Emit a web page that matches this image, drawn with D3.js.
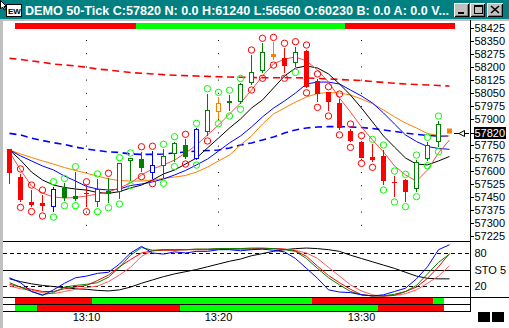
<!DOCTYPE html>
<html><head><meta charset="utf-8">
<script src="https://cdn.jsdelivr.net/npm/d3@7"></script>
<style>html,body{margin:0;padding:0;background:#fff;overflow:hidden}svg{display:block;font-family:"Liberation Sans",Arial,sans-serif}</style>
</head><body><svg id="c" width="509" height="328"></svg>
<script>
// ---------------- DATA ----------------
const titleText = "DEMO 50-Tick C:57820 N: 0.0 H:61240 L:56560 O:60230 B: 0.0 A: 0.0 V...";
const opens  = [57725,57567,57423,57417,57394,57504,57456,57471,57423,57485,57477,57658,57667,57587,57627,57698,57750,57667,57827,57939,58004,58000,58108,58179,58275,58250,58221,58292,58119,58057,57994,57832,57766,57683,57687,57538,57548,57494,57669,57769];
const highs  = [57725,57583,57490,57461,57509,57528,57596,57509,57554,57558,57648,57675,57711,57714,57725,57769,57783,57846,58046,58025,58037,58105,58269,58337,58342,58308,58317,58298,58131,58057,58015,57842,57775,57754,57721,57571,57552,57663,57766,57888];
const lows   = [57525,57419,57395,57369,57363,57429,57429,57394,57394,57417,57438,57545,57596,57556,57558,57654,57669,57663,57802,57902,57946,57985,58096,58164,58240,58164,58198,58080,57996,57946,57837,57765,57673,57650,57519,57450,57423,57481,57659,57740];
const closes = [57587,57433,57401,57400,57494,57443,57439,57471,57494,57466,57644,57675,57616,57635,57687,57760,57679,57841,57952,57991,57991,58100,58169,58285,58259,58207,58285,58086,58043,58000,57846,57775,57677,57663,57542,57538,57481,57654,57748,57871];
const candleType = ["down","down","down","down","blue","upFilled","upFilled","doji","up","upFilled","up","up","upFilled","blue","up","up","upFilled","blue","up","orange","upFilled","up","up","up","orangeFilled","down","up","down","down","down","down","down","down","down","down","doji","down","up","up","up"];
const topMarker    = [null,"r","r","r","g","g","g","r","g","r","g","g","r","r","g","g","r","g","g","g","g","g","r","r","r","r","r","r","r","r","r","r","r","g","g","g","g","g","g","g"];
const bottomMarker = [null,"r","r","r","g","g","g","r","g","g","g","g","r","r","g","g","r","g","r","g","g","g","r","r","r","r","g","r","r","r","r","r","r","r","g","g","g","g","g","g"];
const lastTick = 57828;
const lastPrice = 57820;

const maRedDash  = [58250,58244,58235,58227,58217,58212,58206,58198,58188,58183,58175,58168,58164,58160,58156,58152,58150,58148,58146,58144,58142,58141,58139,58138,58138,58138,58138,58137,58134,58131,58128,58125,58122,58116,58111,58106,58102,58099,58096,58093,58090];
const maBlueDash = [57817,57808,57790,57776,57763,57753,57738,57727,57718,57710,57707,57698,57696,57696,57698,57704,57710,57715,57718,57721,57733,57750,57762,57779,57796,57819,57837,57848,57854,57856,57856,57854,57851,57845,57837,57828,57819,57811,57805,57802,57802];
const maBlack  = [57721,57663,57594,57548,57519,57505,57496,57490,57476,57471,57481,57502,57519,57548,57583,57606,57640,57675,57733,57790,57848,57900,57963,58010,58079,58148,58194,58206,58194,58160,58102,58038,57963,57883,57802,57738,57675,57640,57635,57658,57684];
const maBlue   = [57721,57687,57658,57629,57606,57571,57542,57511,57496,57490,57496,57516,57525,57537,57554,57577,57603,57635,57669,57715,57762,57802,57854,57912,57963,58004,58050,58102,58113,58113,58102,58067,58033,57992,57935,57871,57808,57770,57741,57730,57725];
const maOrange = [57721,57698,57678,57658,57640,57620,57603,57587,57571,57554,57545,57542,57542,57548,57557,57565,57574,57594,57623,57658,57692,57750,57802,57871,57929,57963,57998,58027,58047,58053,58050,58038,58015,57989,57952,57912,57877,57848,57816,57805,57802];
const maPink   = [57710,57606,57513,57473,57450,57444,57447,57456,57467,57479,57502,57531,57577,57612,57635,57663,57704,57750,57808,57865,57929,57992,58067,58148,58217,58246,58258,58235,58183,58113,58021,57940,57854,57779,57710,57629,57577,57542,57606,57704,57779];

const priceTicks = [58425,58350,58275,58200,58125,58050,57975,57900,57750,57675,57600,57525,57450,57375,57300,57225];

const stoBlue  = [35,26,10,3,13,25,35,38,43,45,60,80,92,80,78,82,80,83,83,86,86,84,86,87,85,82,70,52,34,13,9,8,4,2,4,10,16,33,55,86,95];
const stoGreen = [26,18,10,4,8,18,21,23,26,36,54,76,90,85,86,86,86,87,87,88,88,88,89,89,88,86,83,70,52,35,22,10,4,2,2,5,10,21,42,63,78];
const stoRed   = [23,18,14,10,10,15,18,21,30,40,55,68,80,84,85,85,86,86,86,87,87,87,87,88,88,87,84,74,56,39,26,14,4,2,2,3,10,18,34,55,79];
const stoPink  = [20,15,12,8,6,10,14,17,20,28,40,54,74,84,86,86,86,87,87,88,88,88,88,88,88,87,85,80,70,54,38,22,11,4,1,3,6,13,25,38,57];
const stoBlack = [33,28,24,21,19,17,15,14,12,11,13,18,25,31,37,42,46,50,55,60,65,69,75,79,83,86,88,89,88,86,83,76,70,64,58,52,45,38,34,33,33];
const stoLevels = [80,50,20];
const stoLabels = ["80","STO 5","20"];

const timeIndex = [7,19,32];
const timeText  = ["13:10","13:20","13:30"];

const topBar = [null,"r","r","r","r","r","r","r","r","r","r","r","g","g","g","g","g","g","g","g","g","g","g","g","g","g","g","g","g","g","g","r","r","r","r","r","r","r","r","r","r"];
const bar1   = [null,"r","r","r","r","r","r","r","g","g","g","g","g","g","g","g","g","g","g","g","g","g","g","g","g","g","g","g","r","r","r","r","r","r","r","r","r","r","r","g",null];
const bar2   = [null,"g","g","r","r","r","r","r","r","r","r","r","r","r","r","r","g","g","g","g","g","g","g","g","g","g","g","g","g","g","g","g","g","g","r","r","r","r","r","r",null];

// ---------------- DRAW ----------------
const svg = d3.select("#c");
const W = 509, H = 328;
const x = d3.scalePoint().domain(d3.range(41)).range([9.5, 449.5]);
const y = d3.scaleLinear().domain([57225, 58425]).range([236, 28]);
const ys = d3.scaleLinear().domain([0, 100]).range([297, 242]);
const half = 5.5;
const barCol = {r: "#ff0000", g: "#00ff00"};

svg.append("rect").attr("width", W).attr("height", H).attr("fill", "#fff");

// title bar
svg.append("rect").attr("x", 0).attr("y", 0).attr("width", W).attr("height", 19).attr("fill", "#008080");
svg.append("rect").attr("x", 0).attr("y", 19).attr("width", W).attr("height", 2).attr("fill", "#c0c0c0");
svg.append("rect").attr("x", 0).attr("y", 19).attr("width", 3).attr("height", H - 19).attr("fill", "#c0c0c0");
// icon
svg.append("rect").attr("x", 6.5).attr("y", 4.5).attr("width", 15).attr("height", 12).attr("fill", "#fff").attr("stroke", "#000");
svg.append("text").attr("x", 8).attr("y", 14).attr("font-size", 8).attr("font-weight", "bold").attr("fill", "#000").text("EW");
svg.append("path").attr("d", "M0.5,0.5 L0.5,9 L2.5,7 L4.5,10 L5.5,9.5 L4,6.5 L6.5,6.5 Z").attr("fill", "#fff").attr("stroke", "#000");
svg.append("text").attr("x", 25).attr("y", 15).attr("font-size", 12).attr("font-weight", "bold").attr("fill", "#fff")
  .attr("textLength", 424).attr("lengthAdjust", "spacingAndGlyphs").text(titleText);
// window buttons
const btns = [[454, 15], [470, 15], [487, 16]];
btns.forEach(([bx, bw]) => {
  svg.append("rect").attr("x", bx).attr("y", 3).attr("width", bw).attr("height", 14).attr("fill", "#c0c0c0").attr("shape-rendering", "crispEdges");
  svg.append("path").attr("d", `M${bx + 0.5},${16.5} V${3.5} H${bx + bw - 0.5}`).attr("fill", "none").attr("stroke", "#fff").attr("shape-rendering", "crispEdges");
  svg.append("path").attr("d", `M${bx + 0.5},${16.5} H${bx + bw - 0.5} V${3.5}`).attr("fill", "none").attr("stroke", "#000").attr("shape-rendering", "crispEdges");
  svg.append("path").attr("d", `M${bx + 1.5},${15.5} H${bx + bw - 1.5} V${4.5}`).attr("fill", "none").attr("stroke", "#808080").attr("shape-rendering", "crispEdges");
});
svg.append("rect").attr("x", 458).attr("y", 12).attr("width", 6).attr("height", 2).attr("fill", "#000");
svg.append("rect").attr("x", 474.5).attr("y", 5.5).attr("width", 8).attr("height", 8).attr("fill", "none").attr("stroke", "#000").attr("shape-rendering", "crispEdges");
svg.append("rect").attr("x", 474).attr("y", 5).attr("width", 9).attr("height", 2).attr("fill", "#000");
svg.append("path").attr("d", "M491,6 L499,13 M499,6 L491,13").attr("stroke", "#000").attr("stroke-width", 1.6);

// top status bar
topBar.forEach((c, i) => {
  if (!c) return;
  svg.append("rect").attr("x", x(i) - half).attr("y", 23).attr("width", 11).attr("height", 6).attr("fill", barCol[c]).attr("shape-rendering", "crispEdges");
});

// dotted time lines
timeIndex.forEach(i => {
  svg.append("line").attr("x1", x(i)).attr("x2", x(i)).attr("y1", 40).attr("y2", 238)
    .attr("stroke", "#000").attr("stroke-dasharray", "1,12.2");
});

// moving averages
const line = d3.line().x((d, i) => x(i)).y(d => y(d));
svg.append("path").attr("d", line(maRedDash)).attr("fill", "none").attr("stroke", "#ff0000").attr("stroke-width", 1.6).attr("stroke-dasharray", "7,4.5");
svg.append("path").attr("d", line(maBlueDash)).attr("fill", "none").attr("stroke", "#0000ff").attr("stroke-width", 1.6).attr("stroke-dasharray", "7,4.5");
svg.append("path").attr("d", line(maOrange)).attr("fill", "none").attr("stroke", "#ff8000").attr("stroke-width", 1);
svg.append("path").attr("d", line(maBlue)).attr("fill", "none").attr("stroke", "#0000ff").attr("stroke-width", 1);
svg.append("path").attr("d", line(maBlack)).attr("fill", "none").attr("stroke", "#000").attr("stroke-width", 1);
svg.append("path").attr("d", line(maPink)).attr("fill", "none").attr("stroke", "#ff4848").attr("stroke-width", 1);

// candles
const typeStyle = {
  down: {c: "#ff0000", fill: true},
  up: {c: "#008000", fill: false},
  upFilled: {c: "#008000", fill: true},
  blue: {c: "#0000ff", fill: false},
  orange: {c: "#ff8000", fill: false},
  orangeFilled: {c: "#ff8000", fill: true},
  doji: {c: "#ff0000", fill: true, doji: true}
};
const cg = svg.append("g");
opens.forEach((o, i) => {
  const st = typeStyle[candleType[i]];
  const cx = x(i);
  cg.append("line").attr("x1", cx).attr("x2", cx).attr("y1", y(highs[i])).attr("y2", y(lows[i])).attr("stroke", st.c).attr("shape-rendering", "crispEdges");
  const top = Math.round(y(Math.max(o, closes[i])));
  const bot = Math.round(y(Math.min(o, closes[i])));
  if (st.doji) {
    cg.append("line").attr("x1", cx - 2.5).attr("x2", cx + 2.5).attr("y1", top + 0.5).attr("y2", top + 0.5).attr("stroke", st.c).attr("shape-rendering", "crispEdges");
  } else if (st.fill) {
    cg.append("rect").attr("x", cx - 2.5).attr("y", top).attr("width", 5).attr("height", Math.max(2, bot - top)).attr("fill", st.c).attr("shape-rendering", "crispEdges");
  } else {
    cg.append("rect").attr("x", cx - 2).attr("y", top + 0.5).attr("width", 4).attr("height", Math.max(1, bot - top - 1)).attr("fill", "#fff").attr("stroke", st.c).attr("shape-rendering", "crispEdges");
  }
});
// markers (circles)
const mk = {r: "#ff0000", g: "#00ff00"};
opens.forEach((o, i) => {
  if (topMarker[i]) cg.append("circle").attr("cx", x(i)).attr("cy", y(highs[i]) - 5).attr("r", 3.2).attr("fill", "none").attr("stroke", mk[topMarker[i]]);
  if (bottomMarker[i]) cg.append("circle").attr("cx", x(i)).attr("cy", y(lows[i]) + 5).attr("r", 3.2).attr("fill", "none").attr("stroke", mk[bottomMarker[i]]);
});
// current tick
svg.append("rect").attr("x", x(40) - 2.5).attr("y", Math.round(y(lastTick)) - 2.5).attr("width", 5).attr("height", 5).attr("fill", "#ff8000");

// price axis
svg.append("line").attr("x1", 470.5).attr("x2", 470.5).attr("y1", 20).attr("y2", 312).attr("stroke", "#000").attr("shape-rendering", "crispEdges");
priceTicks.forEach(v => {
  const py = Math.round(y(v)) + 0.5;
  svg.append("line").attr("x1", 470).attr("x2", 474).attr("y1", py).attr("y2", py).attr("stroke", "#000").attr("shape-rendering", "crispEdges");
  svg.append("text").attr("x", 474.5).attr("y", py).attr("dy", "0.36em").attr("font-size", 11).attr("fill", "#000").text(v);
});
const lpY = Math.round(y(lastPrice)) + 0.5;
svg.append("line").attr("x1", 470).attr("x2", 474).attr("y1", lpY).attr("y2", lpY).attr("stroke", "#000");
svg.append("rect").attr("x", 474).attr("y", lpY - 6.5).attr("width", 32).attr("height", 12).attr("fill", "#000");
svg.append("text").attr("x", 474.5).attr("y", lpY).attr("dy", "0.36em").attr("font-size", 11).attr("fill", "#fff").text(lastPrice);
svg.append("path").attr("d", `M454,${lpY} H459 M465,${lpY} H469 M459,${lpY} L464.5,${lpY - 3} V${lpY + 3} Z`).attr("fill", "#fff").attr("stroke", "#000").attr("stroke-width", 1);

// stochastic panel
const hl = (yy, x2, dash) => svg.append("line").attr("x1", 3).attr("x2", x2).attr("y1", yy).attr("y2", yy).attr("stroke", "#000").attr("shape-rendering", "crispEdges").attr("stroke-dasharray", dash || null);
hl(241.5, 470);
stoLevels.forEach((v, k) => {
  const yy = Math.round(ys(v)) + 0.5;
  hl(yy, 470, v === 50 ? null : "4,3");
  svg.append("text").attr("x", 474.5).attr("y", yy).attr("dy", "0.36em").attr("font-size", 11).attr("fill", "#000").text(stoLabels[k]);
});
const sline = d3.line().x((d, i) => x(i)).y(d => ys(d));
[[stoBlack, "#000"], [stoPink, "#ff5a5a"], [stoRed, "#ff0000"], [stoGreen, "#008000"], [stoBlue, "#0000ff"]].forEach(([s, c]) => {
  svg.append("path").attr("d", sline(s)).attr("fill", "none").attr("stroke", c).attr("stroke-width", 1);
});

// indicator bars
bar1.forEach((c, i) => { if (c) svg.append("rect").attr("x", x(i) - half).attr("y", 298).attr("width", 11).attr("height", 6).attr("fill", barCol[c]).attr("shape-rendering", "crispEdges"); });
bar2.forEach((c, i) => { if (c) svg.append("rect").attr("x", x(i) - half).attr("y", 305).attr("width", 11).attr("height", 6).attr("fill", barCol[c]).attr("shape-rendering", "crispEdges"); });
svg.append("line").attr("x1", 3).attr("x2", W).attr("y1", 297.5).attr("y2", 297.5).attr("stroke", "#000").attr("shape-rendering", "crispEdges");
hl(304.5, 470);
hl(311.5, 470);

// time labels
timeIndex.forEach((i, k) => {
  svg.append("text").attr("x", x(i)).attr("y", 321).attr("text-anchor", "middle").attr("font-size", 11).attr("fill", "#000").text(timeText[k]);
});
// corner squares
svg.append("rect").attr("x", 478).attr("y", 312).attr("width", 12).attr("height", 10).attr("fill", "#000");
svg.append("rect").attr("x", 492).attr("y", 312).attr("width", 12).attr("height", 10).attr("fill", "#000");
</script></body></html>
